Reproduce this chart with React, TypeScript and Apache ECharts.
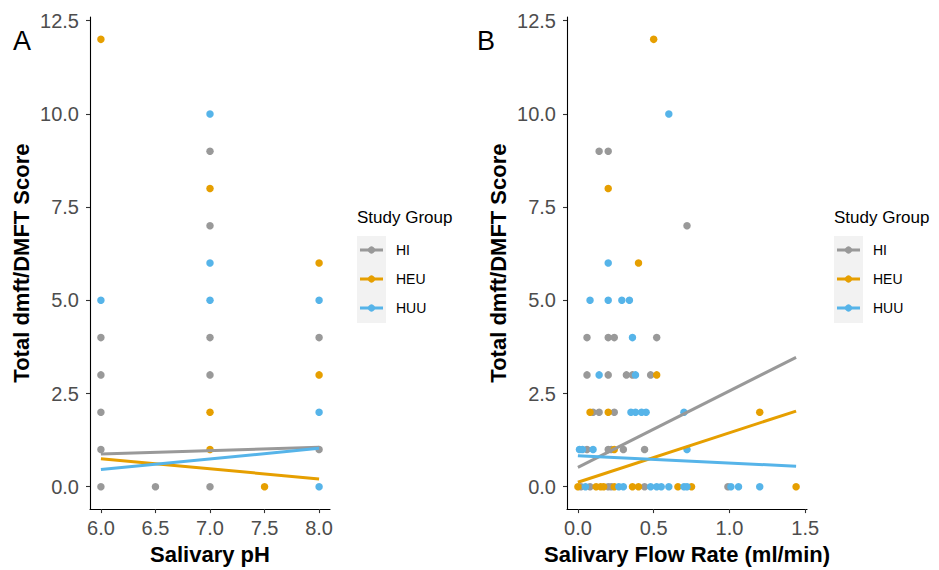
import React, { useEffect, useRef } from "react";
import * as echarts from "echarts";

// ---------- data ----------
const groups = ["HI", "HEU", "HUU"];
const groupColors = ["#999999", "#E69F00", "#56B4E9"];

// Panel A: Salivary pH vs score
const phHI = [[6, 4], [6, 3], [6, 2], [6, 1], [6, 0], [6.5, 0], [7, 9], [7, 7], [7, 4], [7, 3], [7, 0], [8, 4], [8, 1]];
const phHEU = [[6, 12], [7, 8], [7, 2], [7, 1], [7.5, 0], [8, 6], [8, 3]];
const phHUU = [[6, 5], [7, 10], [7, 6], [7, 5], [8, 5], [8, 2], [8, 0]];
const phFitHI = [[6, 0.875], [8, 1.06]];
const phFitHEU = [[6, 0.75], [8, 0.21]];
const phFitHUU = [[6, 0.46], [8, 1.03]];

// Panel B: Salivary flow rate vs score
const flowHI = [[0.14, 9], [0.2, 9], [0.72, 7], [0.06, 4], [0.2, 4], [0.24, 4], [0.52, 4], [0.06, 3], [0.2, 3], [0.32, 3], [0.36, 3], [0.48, 3], [0.1, 2], [0.14, 2], [0.24, 2], [0.06, 1], [0.2, 1], [0.22, 1], [0.3, 1], [0.44, 1], [0.02, 0], [0.08, 0], [0.2, 0], [0.22, 0], [0.44, 0], [0.99, 0]];
const flowHEU = [[0.5, 12], [0.2, 8], [0.4, 6], [0.52, 3], [0.08, 2], [0.2, 2], [1.2, 2], [0.24, 1], [0, 0], [0.12, 0], [0.15, 0], [0.17, 0], [0.24, 0], [0.36, 0], [0.4, 0], [0.66, 0], [0.75, 0], [1.44, 0]];
const flowHUU = [[0.6, 10], [0.2, 6], [0.08, 5], [0.2, 5], [0.29, 5], [0.34, 5], [0.36, 4], [0.14, 3], [0.38, 3], [0.35, 2], [0.38, 2], [0.42, 2], [0.45, 2], [0.7, 2], [0.01, 1], [0.03, 1], [0.1, 1], [0.72, 1], [0.05, 0], [0.27, 0], [0.3, 0], [0.48, 0], [0.52, 0], [0.55, 0], [0.6, 0], [0.7, 0], [0.72, 0], [1.01, 0], [1.06, 0], [1.2, 0]];
const flowFitHI = [[0, 0.52], [1.44, 3.47]];
const flowFitHEU = [[0, 0.12], [1.44, 2.03]];
const flowFitHUU = [[0, 0.83], [1.44, 0.55]];

const yTicks = [0, 2.5, 5, 7.5, 10, 12.5];
const phTicks = [6, 6.5, 7, 7.5, 8];
const flowTicks = [0, 0.5, 1, 1.5];

const yTitle = "Total dmft/DMFT Score";
const xTitleA = "Salivary pH";
const xTitleB = "Salivary Flow Rate (ml/min)";
const legendTitle = "Study Group";

const FONT = "Liberation Sans, Arial, Helvetica, sans-serif";

function xAxisCfg(grid: number, min: number, max: number, ticks: number[], name: string) {
  return {
    gridIndex: grid,
    type: "value",
    min,
    max,
    name,
    nameLocation: "middle",
    nameGap: 32,
    nameTextStyle: { fontFamily: FONT, fontWeight: "bold", fontSize: 22, color: "#000" },
    axisLine: { show: true, onZero: false, lineStyle: { color: "#000", width: 1.1 } },
    axisTick: { show: true, customValues: ticks, length: 4, lineStyle: { color: "#333", width: 1.1 } },
    axisLabel: {
      customValues: ticks,
      formatter: (v: number) => v.toFixed(1),
      fontFamily: FONT,
      fontSize: 20,
      color: "#4d4d4d",
      margin: 9,
    },
    splitLine: { show: false },
  };
}

function yAxisCfg(grid: number) {
  return {
    gridIndex: grid,
    type: "value",
    min: -0.6,
    max: 12.6,
    name: yTitle,
    nameLocation: "middle",
    nameGap: 58,
    nameTextStyle: { fontFamily: FONT, fontWeight: "bold", fontSize: 22, color: "#000" },
    axisLine: { show: true, onZero: false, lineStyle: { color: "#000", width: 1.1 } },
    axisTick: { show: true, customValues: yTicks, length: 4, lineStyle: { color: "#333", width: 1.1 } },
    axisLabel: {
      customValues: yTicks,
      formatter: (v: number) => v.toFixed(1),
      fontFamily: FONT,
      fontSize: 20,
      color: "#4d4d4d",
      margin: 11,
    },
    splitLine: { show: false },
  };
}

function legendGraphics(dx: number) {
  const els: any[] = [];
  els.push({
    type: "text",
    left: 357 + dx,
    top: 209,
    style: { text: legendTitle, font: `17px ${FONT}`, fill: "#000" },
  });
  els.push({
    type: "rect",
    shape: { x: 357 + dx, y: 236, width: 29, height: 87 },
    style: { fill: "#f2f2f2" },
  });
  const ys = [250, 279, 308];
  groups.forEach((g, i) => {
    els.push({
      type: "line",
      shape: { x1: 360 + dx, y1: ys[i], x2: 383 + dx, y2: ys[i] },
      style: { stroke: groupColors[i], lineWidth: 3 },
    });
    els.push({
      type: "circle",
      shape: { cx: 371.5 + dx, cy: ys[i], r: 3.6 },
      style: { fill: groupColors[i] },
    });
    els.push({
      type: "text",
      left: 396 + dx,
      top: ys[i] - 7,
      style: { text: g, font: `14px ${FONT}`, fill: "#000" },
    });
  });
  return els;
}

export default function App() {
  const ref = useRef<HTMLDivElement>(null);
  useEffect(() => {
    if (!ref.current) return;
    const chart = echarts.init(ref.current, undefined, { renderer: "svg" });
    const pts = [phHI, phHEU, phHUU];
    const ptsB = [flowHI, flowHEU, flowHUU];
    const fits = [phFitHI, phFitHEU, phFitHUU];
    const fitsB = [flowFitHI, flowFitHEU, flowFitHUU];
    const series: any[] = [];
    [pts, ptsB].forEach((set, p) => {
      set.forEach((d, i) => {
        series.push({
          type: "scatter",
          name: groups[i],
          xAxisIndex: p,
          yAxisIndex: p,
          data: d,
          symbolSize: 7.5,
          itemStyle: { color: groupColors[i], opacity: 1 },
          z: 2,
        });
      });
    });
    [fits, fitsB].forEach((set, p) => {
      set.forEach((d, i) => {
        series.push({
          type: "line",
          name: groups[i],
          xAxisIndex: p,
          yAxisIndex: p,
          data: d,
          showSymbol: false,
          symbol: "none",
          lineStyle: { color: groupColors[i], width: 3 },
          z: 3,
        });
      });
    });
    chart.setOption({
      animation: false,
      backgroundColor: "#fff",
      textStyle: { fontFamily: FONT },
      grid: [
        { left: 90, top: 17, width: 240, height: 498, containLabel: false },
        { left: 567, top: 17, width: 240, height: 498, containLabel: false },
      ],
      xAxis: [
        xAxisCfg(0, 5.9, 8.1, phTicks, xTitleA),
        xAxisCfg(1, -0.072, 1.512, flowTicks, xTitleB),
      ],
      yAxis: [yAxisCfg(0), yAxisCfg(1)],
      series,
      graphic: [
        {
          type: "text",
          left: 13,
          top: 27,
          style: { text: "A", font: `27px ${FONT}`, fill: "#000" },
        },
        {
          type: "text",
          left: 477,
          top: 27,
          style: { text: "B", font: `27px ${FONT}`, fill: "#000" },
        },
        ...legendGraphics(0),
        ...legendGraphics(477),
      ],
    });
    return () => chart.dispose();
  }, []);
  return (
    <div
      ref={ref}
      style={{ position: "fixed", left: 0, top: 0, width: 939, height: 570, background: "#fff" }}
    />
  );
}
